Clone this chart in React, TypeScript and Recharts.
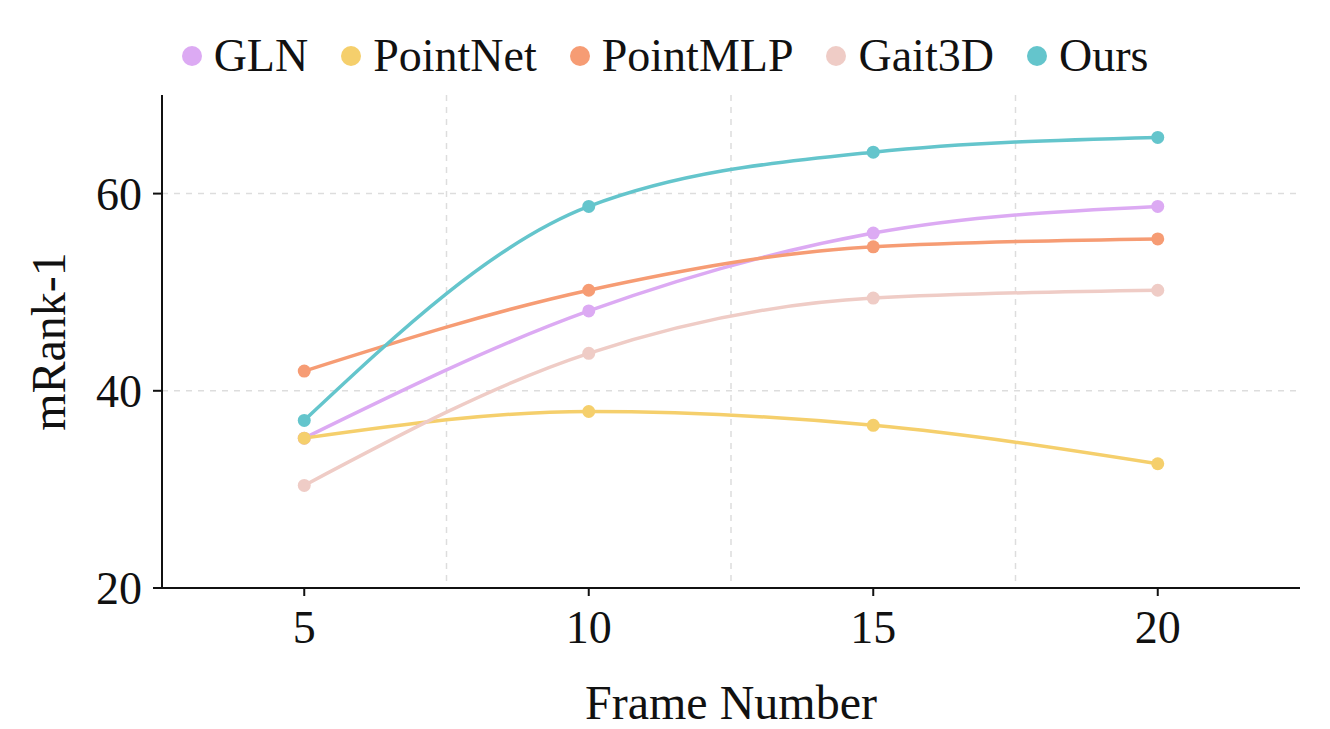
import React from 'react';
import { LineChart, Line, XAxis, YAxis, CartesianGrid, Legend } from 'recharts';

const frames = [5, 10, 15, 20];
const gln = [35.2, 48.1, 56.0, 58.7];
const pointNet = [35.2, 37.9, 36.5, 32.6];
const pointMLP = [42.0, 50.2, 54.6, 55.4];
const gait3d = [30.4, 43.8, 49.4, 50.2];
const ours = [37.0, 58.7, 64.2, 65.7];

const xTicks = [5, 10, 15, 20];
const yTicks = [20, 40, 60];

const series = [
  { key: 'GLN', values: gln, color: '#dcaaf3' },
  { key: 'PointNet', values: pointNet, color: '#f5cf6c' },
  { key: 'PointMLP', values: pointMLP, color: '#f69c74' },
  { key: 'Gait3D', values: gait3d, color: '#efccc6' },
  { key: 'Ours', values: ours, color: '#64c5cc' },
];

const chartData = frames.map((f, i) => {
  const row: Record<string, number> = { frame: f };
  series.forEach(s => { row[s.key] = s.values[i]; });
  return row;
});

const font = '"Liberation Serif", "Times New Roman", serif';

const renderLegend = () => (
  <div style={{ display: 'flex', justifyContent: 'center', fontFamily: font, fontSize: 46, color: '#111', lineHeight: '52px' }}>
    {series.map((s, i) => (
      <div key={s.key} style={{ display: 'flex', alignItems: 'center', marginRight: i < series.length - 1 ? 33 : 0 }}>
        <span style={{ width: 20, height: 20, borderRadius: 10, background: s.color, marginRight: 12, display: 'inline-block' }} />
        <span>{s.key}</span>
      </div>
    ))}
  </div>
);

const App: React.FC = () => {
  return (
    <div style={{ position: 'absolute', left: 0, top: 0, background: '#fff' }}>
      <LineChart width={1330} height={729} data={chartData} margin={{ top: 95, right: 30, bottom: 0, left: 0 }}>
        <CartesianGrid stroke="#dddddd" strokeDasharray="6 6" strokeWidth={1.5} horizontalValues={[40, 60]} verticalValues={[7.5, 12.5, 17.5]} />
        <XAxis
          dataKey="frame"
          type="number"
          domain={[2.5, 22.5]}
          ticks={xTicks}
          height={141}
          stroke="#111"
          strokeWidth={2}
          tickSize={8}
          tickMargin={14}
          tick={{ fill: '#111', fontSize: 46, fontFamily: font }}
          label={{ value: 'Frame Number', position: 'insideBottom', offset: 10, fill: '#111', fontSize: 48, fontFamily: font }}
        />
        <YAxis
          type="number"
          domain={[20, 70]}
          ticks={yTicks}
          width={162}
          stroke="#111"
          strokeWidth={2}
          tickSize={9}
          tickMargin={11}
          tick={{ fill: '#111', fontSize: 46, fontFamily: font }}
          label={{ value: 'mRank-1', angle: -90, position: 'insideLeft', offset: 48, fill: '#111', fontSize: 48, fontFamily: font, style: { textAnchor: 'middle' } }}
        />
        <Legend verticalAlign="middle" align="center" content={renderLegend} wrapperStyle={{ top: 30, left: 0, width: 1330 }} />
        {series.map(s => (
          <Line
            key={s.key}
            type="monotone"
            dataKey={s.key}
            stroke={s.color}
            strokeWidth={3.5}
            dot={{ r: 6.5, fill: s.color, stroke: s.color, strokeWidth: 0 }}
            activeDot={false}
            isAnimationActive={false}
          />
        ))}
      </LineChart>
    </div>
  );
};

export default App;
